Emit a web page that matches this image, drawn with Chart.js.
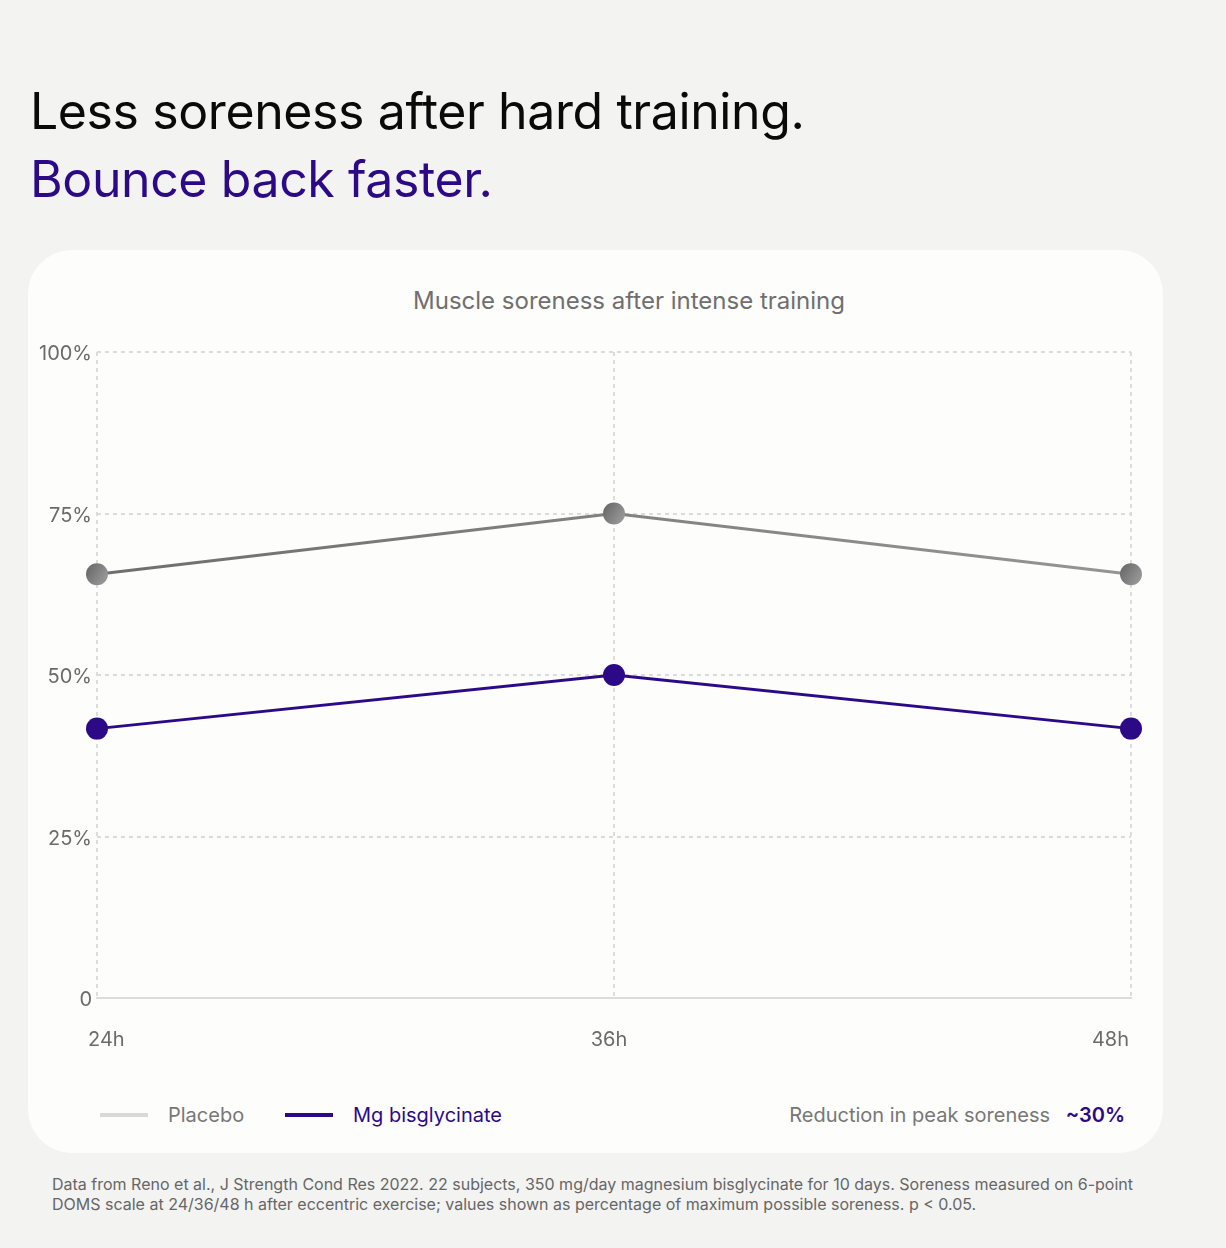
<!DOCTYPE html>
<html>
<head>
<meta charset="utf-8">
<script src="https://cdn.jsdelivr.net/npm/chart.js@4.4.1/dist/chart.umd.min.js"></script>
<style>
  body { margin: 0; background: #f3f3f2; font-family: Inter, "Noto Sans", sans-serif; width: 1226px; height: 1248px; position: relative; overflow: hidden; }
  .head { position: absolute; left: 30px; margin: 0; font-size: 50px; line-height: 50px; font-weight: 400; letter-spacing: -0.4px; white-space: nowrap; }
  #h1 { top: 86px; color: #0a0a0a; }
  #h2 { top: 154px; color: #2c0a87; }
  .card { position: absolute; left: 28px; top: 250px; width: 1135px; height: 903px; background: #fdfdfb; border-radius: 44px; }
  #ctitle { position: absolute; left: 0; width: 1258px; top: 289px; text-align: center; font-size: 24px; line-height: 24px; color: #6f6f6f; }
  #wrap { position: absolute; left: 28px; top: 330px; width: 1135px; height: 740px; }
  .leg { position: absolute; top: 1105px; font-size: 20px; line-height: 20px; white-space: nowrap; }
  .sw { position: absolute; top: 1113px; width: 48px; height: 4px; }
  #note { position: absolute; left: 52px; top: 1174px; font-size: 16px; line-height: 20px; color: #666; white-space: nowrap; }
</style>
</head>
<body>
<div id="h1" class="head">Less soreness after hard training.</div>
<div id="h2" class="head">Bounce back faster.</div>
<div class="card"></div>
<div id="ctitle">Muscle soreness after intense training</div>
<div id="wrap"><canvas id="myChart"></canvas></div>

<div class="sw" style="left:100px;background:#d9d9d9"></div>
<div class="leg" style="left:168px;color:#777">Placebo</div>
<div class="sw" style="left:285px;background:#2c0a87"></div>
<div class="leg" style="left:353px;color:#2c0a87">Mg bisglycinate</div>
<div class="leg" style="right:176px;color:#777">Reduction in peak soreness</div>
<div class="leg" style="right:101px;color:#2c0a87;font-weight:600">~30%</div>

<div id="note">Data from Reno et al., J Strength Cond Res 2022. 22 subjects, 350 mg/day magnesium bisglycinate for 10 days. Soreness measured on 6-point<br>DOMS scale at 24/36/48 h after eccentric exercise; values shown as percentage of maximum possible soreness. p &lt; 0.05.</div>

<script>
const hours = ['24h', '36h', '48h']
const placebo = [65.6, 75, 65.6]
const magnesium = [41.7, 50, 41.7]
const yTicks = [0, 25, 50, 75, 100]

const purple = '#2c0a87'

// grey line fades lighter to the right
function greyLine(ctx) {
    const a = ctx.chart.chartArea
    if (!a) return '#808080'
    const g = ctx.chart.ctx.createLinearGradient(a.left, 0, a.right, 0)
    g.addColorStop(0, '#6e6e6e')
    g.addColorStop(1, '#959595')
    return g
}

function greyPoint(ctx) {
    const c = ctx.chart
    if (!c.chartArea || ctx.type !== 'data') return '#808080'
    const x = c.scales.x.getPixelForValue(ctx.dataIndex)
    const y = c.scales.y.getPixelForValue(ctx.raw)
    const g = c.ctx.createLinearGradient(x - 10, y - 6, x + 10, y + 6)
    g.addColorStop(0, '#6a6a6a')
    g.addColorStop(1, '#9a9a9a')
    return g
}

// x labels: first one left, middle centred, last one right
const xLabels = {
    id: 'xLabels',
    afterDraw(chart) {
        const c = chart.ctx
        const sx = chart.scales.x
        const last = hours.length - 1
        c.save()
        c.font = '20px Inter, sans-serif'
        c.fillStyle = '#6b6b6b'
        c.textBaseline = 'middle'
        hours.forEach((h, i) => {
            let x = sx.getPixelForValue(i)
            if (i === 0) { c.textAlign = 'left'; x -= 9 }
            else if (i === last) { c.textAlign = 'right'; x -= 2 }
            else { c.textAlign = 'center'; x -= 5 }
            c.fillText(h, x, chart.chartArea.bottom + 42)
        })
        c.restore()
    }
}

const ctx = document.getElementById('myChart')
new Chart(ctx, {
    type: 'line',
    data: {
        labels: hours,
        datasets: [{
            label: 'Placebo',
            data: placebo,
            borderColor: greyLine,
            backgroundColor: greyPoint,
            borderWidth: 3,
            pointRadius: 11,
            pointBorderWidth: 0,
            pointBackgroundColor: greyPoint,
            clip: false
        }, {
            label: 'Mg bisglycinate',
            data: magnesium,
            borderColor: purple,
            backgroundColor: purple,
            borderWidth: 3,
            pointRadius: 11,
            pointBorderWidth: 0,
            pointBackgroundColor: purple,
            clip: false
        }]
    },
    options: {
        responsive: true,
        maintainAspectRatio: false,
        animation: false,
        layout: { padding: { top: 22, right: 32, bottom: 72, left: 0 } },
        scales: {
            x: {
                grid: { color: '#dcdcdc', lineWidth: 2, drawTicks: false },
                border: { display: true, color: '#dcdcdc', width: 2, dash: [4, 4] },
                ticks: { display: false }
            },
            y: {
                min: 0,
                max: 100,
                afterBuildTicks: (s) => { s.ticks = yTicks.map(v => ({ value: v })) },
                afterFit: (s) => { s.width = 69 },
                grid: { color: (c) => c.tick && c.tick.value === 0 ? 'transparent' : '#dcdcdc', lineWidth: 2, drawTicks: false },
                border: { display: false, dash: [4, 4] },
                ticks: {
                    padding: 5,
                    labelOffset: 2,
                    color: '#6b6b6b',
                    font: { family: 'Inter', size: 20 },
                    callback: (v) => v === 0 ? '0' : v + '%'
                }
            }
        },
        plugins: {
            legend: { display: false },
            tooltip: { enabled: false }
        }
    },
    plugins: [xLabels]
})
</script>
</body>
</html>
